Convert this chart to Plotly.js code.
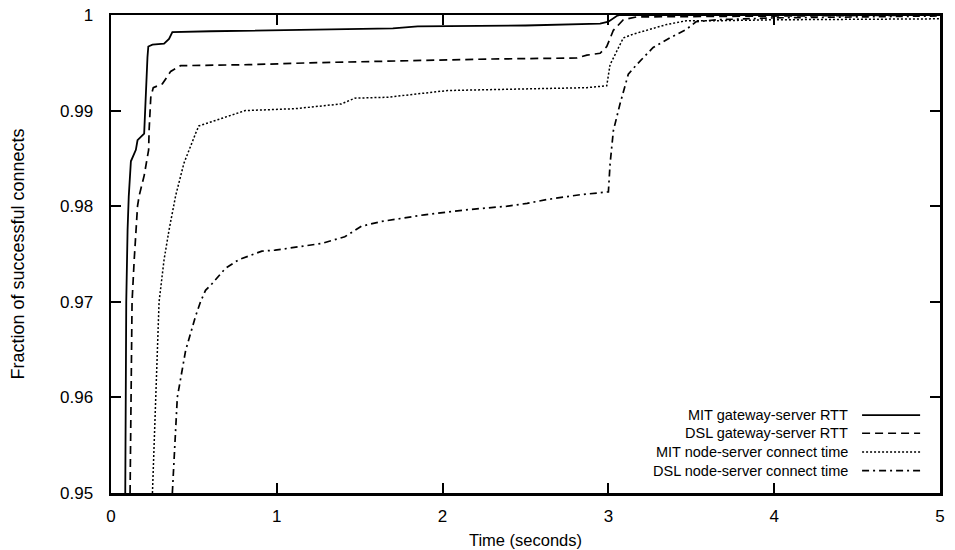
<!DOCTYPE html>
<html>
<head>
<meta charset="utf-8">
<script src="https://cdn.plot.ly/plotly-3.0.1.min.js"></script>
<style>html,body{margin:0;padding:0;background:#fff}#chart{width:955px;height:550px}</style>
</head>
<body>
<div id="chart"></div>
<script>
// ---- Data ----
const seriesNames = [
  "MIT gateway-server RTT",
  "DSL gateway-server RTT",
  "MIT node-server connect time",
  "DSL node-server connect time"
];

const mitGwX = [0.086, 0.092, 0.10, 0.107, 0.12, 0.15, 0.16, 0.19, 0.20, 0.22, 0.225, 0.25, 0.32, 0.35, 0.37, 0.6, 1.0, 1.5, 1.7, 1.85, 2.5, 2.95, 3.0, 3.05, 3.07, 4.0, 5.0];
const mitGwY = [0.95, 0.970, 0.9775, 0.981, 0.9847, 0.9859, 0.9869, 0.9874, 0.9876, 0.9956, 0.9967, 0.9969, 0.9970, 0.9975, 0.9982, 0.9983, 0.9984, 0.9985, 0.9986, 0.9988, 0.9989, 0.9991, 0.9993, 0.9999, 1.0, 1.0, 1.0];

const dslGwX = [0.115, 0.127, 0.14, 0.16, 0.17, 0.20, 0.227, 0.23, 0.24, 0.255, 0.31, 0.36, 0.42, 0.83, 1.2, 1.67, 2.3, 2.81, 2.87, 2.95, 2.99, 3.03, 3.09, 3.17, 4.0, 5.0];
const dslGwY = [0.95, 0.970, 0.9744, 0.980, 0.9811, 0.9832, 0.9859, 0.9880, 0.9914, 0.9924, 0.9928, 0.9941, 0.9947, 0.9948, 0.9950, 0.9952, 0.9954, 0.9955, 0.9958, 0.9960, 0.9967, 0.9984, 0.9995, 0.9998, 0.9999, 1.0];

const mitNodeX = [0.25, 0.27, 0.29, 0.32, 0.35, 0.39, 0.44, 0.51, 0.53, 0.67, 0.81, 1.11, 1.39, 1.47, 1.67, 2.03, 2.33, 2.87, 2.99, 3.01, 3.09, 3.15, 3.35, 3.47, 3.65, 4.0, 5.0];
const mitNodeY = [0.95, 0.96, 0.97, 0.9744, 0.9775, 0.9811, 0.9845, 0.9876, 0.9884, 0.9892, 0.9900, 0.9902, 0.9907, 0.9913, 0.9914, 0.9921, 0.9922, 0.9924, 0.9926, 0.9948, 0.9976, 0.9980, 0.9990, 0.9994, 0.9994, 0.9995, 0.9996];

const dslNodeX = [0.37, 0.40, 0.45, 0.51, 0.54, 0.57, 0.61, 0.69, 0.77, 0.91, 0.99, 1.15, 1.27, 1.41, 1.51, 1.63, 1.89, 2.13, 2.39, 2.51, 2.63, 2.83, 3.0, 3.01, 3.03, 3.07, 3.12, 3.17, 3.27, 3.37, 3.47, 3.53, 3.65, 4.0, 5.0];
const dslNodeY = [0.95, 0.96, 0.9649, 0.9685, 0.970, 0.9712, 0.9719, 0.9735, 0.9744, 0.9753, 0.9754, 0.9758, 0.9761, 0.9768, 0.9779, 0.9784, 0.9791, 0.9796, 0.9800, 0.9803, 0.9807, 0.9812, 0.9815, 0.9844, 0.9879, 0.9907, 0.9938, 0.9948, 0.9966, 0.9976, 0.9985, 0.9993, 0.9995, 0.9997, 0.9999];

const xTickVals = [0, 1, 2, 3, 4, 5];
const xTickText = ["0", "1", "2", "3", "4", "5"];
const yTickVals = [0.95, 0.96, 0.97, 0.98, 0.99, 1.0];
const yTickText = ["0.95", "0.96", "0.97", "0.98", "0.99", "1"];

// ---- Styles ----
const dashes = ["solid", "8px,5px", "2px,2px", "7px,4px,2px,4px"];
const widths = [1.8, 1.7, 1.5, 1.7];
const FONT = "Liberation Sans, Arial, Helvetica, sans-serif";

const xs = [mitGwX, dslGwX, mitNodeX, dslNodeX];
const ys = [mitGwY, dslGwY, mitNodeY, dslNodeY];

const traces = seriesNames.map((n, i) => ({
  type: "scatter", mode: "lines", name: n,
  x: xs[i], y: ys[i],
  line: {color: "#000", width: widths[i], dash: dashes[i], shape: "linear"},
  showlegend: false, hoverinfo: "skip"
}));

// legend drawn manually: text right-aligned, line sample to its right
const legY = [0.163, 0.125, 0.086, 0.047];
const annotations = seriesNames.map((n, i) => ({
  xref: "paper", yref: "paper", x: 0.892, y: legY[i],
  xanchor: "right", yanchor: "middle", text: n, showarrow: false,
  font: {family: FONT, size: 14.5, color: "#000"}
}));
const shapes = seriesNames.map((n, i) => ({
  type: "line", xref: "paper", yref: "paper",
  x0: 0.906, x1: 0.976, y0: legY[i], y1: legY[i],
  line: {color: "#000", width: widths[i], dash: dashes[i]}
}));

const layout = {
  width: 955, height: 550,
  margin: {l: 111, r: 15, t: 15, b: 57},
  paper_bgcolor: "#fff", plot_bgcolor: "#fff",
  font: {family: FONT, size: 15, color: "#000"},
  showlegend: false,
  xaxis: {
    range: [0, 5], tickvals: xTickVals, ticktext: xTickText,
    ticks: "inside", ticklen: 10, tickwidth: 2, tickcolor: "#000",
    showline: true, linewidth: 2.5, linecolor: "#000", mirror: "ticks",
    showgrid: false, zeroline: false, ticklabelstandoff: 6,
    tickfont: {family: FONT, size: 17, color: "#000"},
    title: {text: "Time (seconds)", font: {family: FONT, size: 16.5, color: "#000"}, standoff: 10}
  },
  yaxis: {
    range: [0.95, 1.0], tickvals: yTickVals, ticktext: yTickText,
    ticks: "inside", ticklen: 10, tickwidth: 2, tickcolor: "#000",
    showline: true, linewidth: 2.5, linecolor: "#000", mirror: "ticks",
    showgrid: false, zeroline: false, ticklabelstandoff: 12,
    tickfont: {family: FONT, size: 17, color: "#000"},
    title: {text: "Fraction of successful connects", font: {family: FONT, size: 18, color: "#000"}, standoff: 31}
  },
  annotations: annotations,
  shapes: shapes
};

Plotly.newPlot("chart", traces, layout, {staticPlot: true, displayModeBar: false});
</script>
</body>
</html>
